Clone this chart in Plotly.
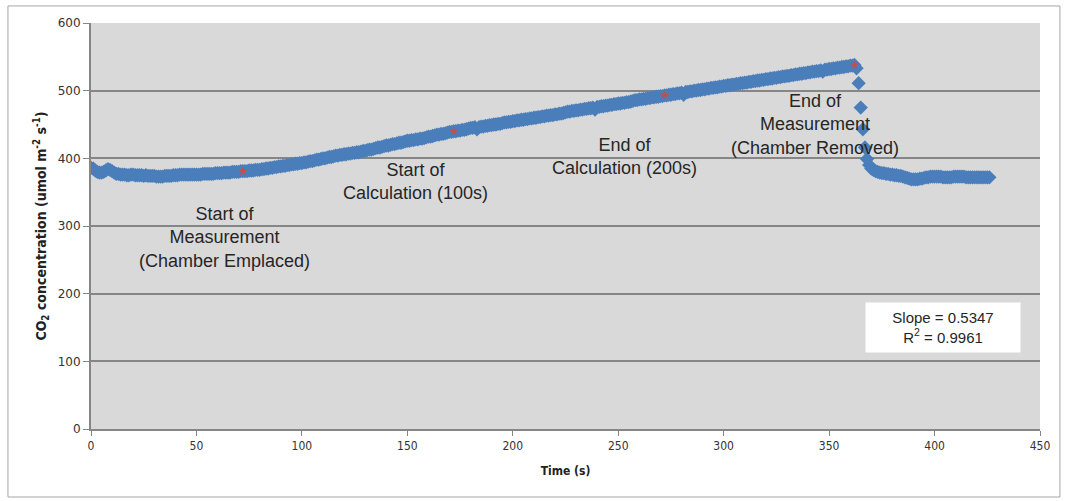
import plotly.graph_objects as go

# CO2 concentration logged inside the chamber once per second
time_s = list(range(0, 427))
co2_ppm = [
    386, 385, 382, 380, 379, 379, 380, 382, 384, 383,
    381, 379, 377, 377, 376, 376, 376, 375, 375, 376,
    376, 375, 375, 375, 375, 374, 375, 374, 374, 374,
    374, 373, 373, 373, 373, 374, 374, 374, 374, 375,
    375, 375, 376, 376, 376, 376, 376, 376, 376, 376,
    376, 376, 376, 377, 377, 377, 377, 377, 377, 378,
    378, 378, 378, 379, 379, 379, 379, 380, 380, 380,
    380, 381, 381, 381, 381, 382, 382, 382, 383, 383,
    383, 384, 384, 385, 385, 386, 386, 387, 387, 388,
    388, 389, 389, 390, 390, 391, 391, 392, 392, 393,
    393, 394, 394, 395, 396, 396, 397, 398, 398, 399,
    400, 400, 401, 402, 402, 403, 404, 404, 405, 405,
    406, 406, 407, 407, 408, 408, 409, 409, 410, 411,
    411, 412, 413, 413, 414, 415, 416, 416, 417, 418,
    419, 419, 420, 421, 421, 422, 423, 423, 424, 425,
    426, 426, 427, 427, 428, 428, 429, 429, 430, 431,
    432, 432, 433, 434, 435, 435, 436, 436, 437, 438,
    439, 439, 440, 440, 441, 441, 442, 442, 443, 444,
    445, 445, 446, 443, 446, 447, 447, 448, 448, 449,
    449, 450, 450, 451, 451, 452, 453, 453, 454, 454,
    455, 455, 456, 456, 457, 457, 458, 458, 459, 459,
    460, 460, 461, 461, 462, 462, 463, 463, 464, 464,
    465, 465, 466, 466, 467, 468, 469, 469, 470, 470,
    471, 471, 472, 472, 473, 473, 474, 474, 475, 472,
    476, 476, 477, 477, 478, 478, 479, 479, 480, 480,
    481, 481, 482, 482, 483, 483, 484, 485, 486, 486,
    487, 487, 488, 488, 489, 489, 490, 490, 491, 491,
    492, 492, 493, 493, 494, 494, 495, 495, 496, 496,
    497, 494, 498, 498, 499, 499, 500, 500, 501, 501,
    502, 502, 503, 503, 504, 504, 505, 505, 506, 506,
    507, 507, 508, 508, 509, 509, 510, 510, 511, 511,
    512, 512, 513, 513, 514, 514, 515, 515, 516, 516,
    517, 517, 518, 518, 519, 519, 520, 520, 521, 521,
    522, 522, 523, 523, 524, 524, 525, 525, 526, 526,
    527, 527, 528, 528, 529, 529, 530, 528, 531, 531,
    532, 532, 533, 533, 534, 534, 535, 535, 536, 536,
    537, 537, 538, 533, 511, 475, 443, 416, 399, 390,
    385, 383, 381, 380, 379, 378, 378, 377, 377, 376,
    376, 375, 375, 374, 374, 373, 372, 371, 370, 369,
    369, 369, 369, 370, 370, 371, 372, 372, 373, 373,
    373, 373, 373, 373, 372, 372, 372, 372, 372, 373,
    373, 373, 373, 373, 373, 372, 372, 372, 372, 372,
    372, 372, 372, 372, 372, 372, 372,
]
assert len(co2_ppm) == len(time_s)

# Event markers: chamber placed, calculation window start/end, chamber removed
event_time_s = [72, 172, 272, 362]
event_co2_ppm = [381, 440, 493, 538]

event_labels = [
    "Start of<br>Measurement<br>(Chamber Emplaced)",
    "Start of<br>Calculation (100s)",
    "End of<br>Calculation (200s)",
    "End of<br>Measurement<br>(Chamber Removed)",
]
label_x = [63.5, 154, 253, 343.5]
label_y = [283, 366, 402, 450]

fit_slope = 0.5347
fit_r2 = 0.9961

x_ticks = [0, 50, 100, 150, 200, 250, 300, 350, 400, 450]
y_ticks = [0, 100, 200, 300, 400, 500, 600]

grid_gray = "#868686"

fig = go.Figure()
fig.add_trace(go.Scatter(
    x=time_s, y=co2_ppm, mode="markers",
    marker=dict(symbol="diamond", size=11, color="#4a7ebb", line=dict(width=0)),
    showlegend=False,
))
fig.add_trace(go.Scatter(
    x=event_time_s, y=event_co2_ppm, mode="markers",
    marker=dict(symbol="star", size=7, color="#c0504d", line=dict(width=0)),
    showlegend=False,
))

for txt, lx, ly in zip(event_labels, label_x, label_y):
    fig.add_annotation(
        x=lx, y=ly, xref="x", yref="y", text=txt, showarrow=False,
        xanchor="center", yanchor="middle", align="center",
        font=dict(family="Liberation Sans, Arial, sans-serif", size=18, color="#262626"),
    )

fig.add_annotation(
    x=404, y=150, xref="x", yref="y",
    text=f"Slope = {fit_slope:.4f}<br>R<sup>2</sup> = {fit_r2:.4f}",
    showarrow=False, xanchor="center", yanchor="middle", align="center",
    bgcolor="white", borderpad=6, width=142,
    font=dict(family="Liberation Sans, Arial, sans-serif", size=15, color="#262626"),
)

# outer chart frame
fig.add_shape(
    type="rect", xref="paper", yref="paper",
    x0=-0.0875, x1=1.021, y0=-0.1675, y1=1.042,
    line=dict(color="#a6a6a6", width=1), fillcolor="rgba(0,0,0,0)", layer="below",
)

tick_font = dict(family="Liberation Sans Narrow, DejaVu Sans Condensed, sans-serif", size=12, color="#333333")

fig.update_layout(
    width=1065, height=501,
    margin=dict(l=91, r=25, t=23, b=72),
    paper_bgcolor="white", plot_bgcolor="#d9d9d9",
    xaxis=dict(
        range=[0, 450], tickvals=x_ticks, showgrid=False, zeroline=False,
        showline=True, linecolor=grid_gray, linewidth=2,
        ticks="outside", ticklen=5, tickcolor=grid_gray, tickwidth=1,
        tickfont=tick_font,
        title=dict(text="<b>Time (s)</b>", standoff=14,
                   font=dict(family="DejaVu Sans Condensed, sans-serif", size=12, color="#222222")),
    ),
    yaxis=dict(
        range=[0, 600], tickvals=y_ticks, showgrid=True, gridcolor=grid_gray, gridwidth=2,
        zeroline=False, showline=True, linecolor=grid_gray, linewidth=2,
        ticks="outside", ticklen=6, tickcolor=grid_gray, tickwidth=1,
        tickfont=dict(family="DejaVu Sans, sans-serif", size=12, color="#333333"),
        title=dict(
            text="<b>CO<sub>2</sub> concentration (umol m<sup>-2</sup> s<sup>-1</sup>)</b>",
            standoff=8,
            font=dict(family="DejaVu Sans Condensed, sans-serif", size=14, color="#222222"),
        ),
    ),
)

fig.write_html("out.html")
